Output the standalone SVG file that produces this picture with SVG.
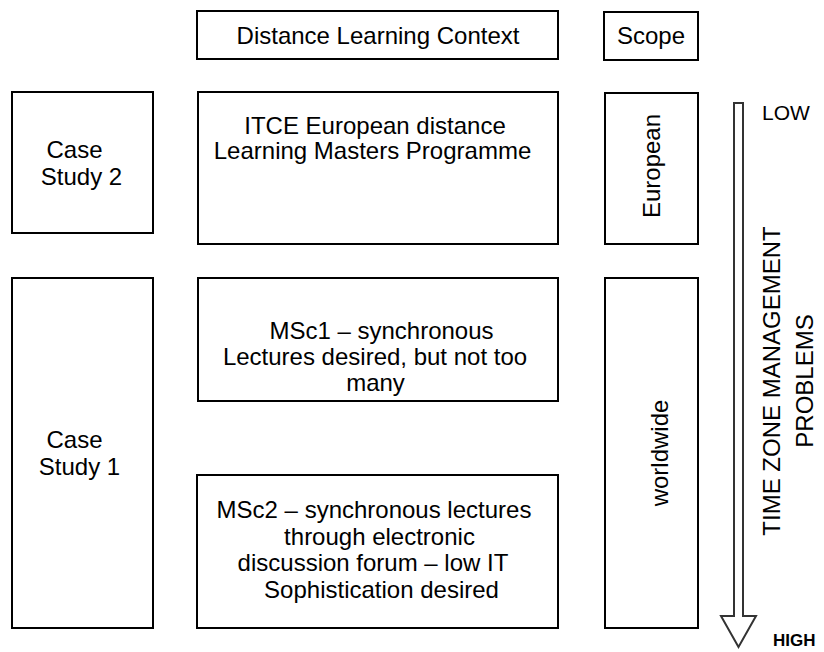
<svg xmlns="http://www.w3.org/2000/svg" width="824" height="652" viewBox="0 0 824 652">
<style>
  .box { fill: #ffffff; stroke: #000000; stroke-width: 2; }
  text { font-family: "Liberation Sans", Arial, sans-serif; font-size: 24px; fill: #000000; text-anchor: middle; }
  .lbl { font-size: 21px; text-anchor: start; }
  .hi { font-size: 17px; font-weight: bold; text-anchor: start; }
  .arrow { fill: #ffffff; stroke: #333333; stroke-width: 2; stroke-linejoin: miter; }
</style>
<rect width="824" height="652" fill="#ffffff"/>

<g id="header-context">
  <rect class="box" x="197" y="11" width="361" height="48"/>
  <text x="378" y="43.5">Distance Learning Context</text>
</g>
<g id="header-scope">
  <rect class="box" x="604" y="12" width="94" height="48"/>
  <text x="651" y="43.5">Scope</text>
</g>

<g id="case-study-2">
  <rect class="box" x="12" y="92" width="141" height="141"/>
  <text x="74.5" y="158">Case</text>
  <text x="81.5" y="185">Study 2</text>
</g>
<g id="case-study-1">
  <rect class="box" x="12" y="278" width="141" height="350"/>
  <text x="74.5" y="448">Case</text>
  <text x="79.5" y="475">Study 1</text>
</g>

<g id="itce">
  <rect class="box" x="198" y="92" width="360" height="152"/>
  <text x="375" y="133.5">ITCE European distance</text>
  <text x="372.5" y="158.5">Learning Masters Programme</text>
</g>
<g id="msc1">
  <rect class="box" x="198" y="278" width="360" height="123"/>
  <text x="381.5" y="338.5">MSc1 – synchronous</text>
  <text x="375" y="365">Lectures desired, but not too</text>
  <text x="375.5" y="390.5">many</text>
</g>
<g id="msc2">
  <rect class="box" x="197" y="475" width="361" height="153"/>
  <text x="374" y="518">MSc2 – synchronous lectures</text>
  <text x="379.5" y="544.5">through electronic</text>
  <text x="373" y="571">discussion forum – low IT</text>
  <text x="381.5" y="597.5">Sophistication desired</text>
</g>

<g id="scope-european">
  <rect class="box" x="605" y="93" width="93" height="151"/>
  <text transform="translate(660,166) rotate(-90)" x="0" y="0">European</text>
</g>
<g id="scope-worldwide">
  <rect class="box" x="605" y="278" width="93" height="350"/>
  <text transform="translate(668,453) rotate(-90)" x="0" y="0">worldwide</text>
</g>

<g id="connectors">
  <polygon class="arrow" points="734,103 743,103 743,616 756,616 738.5,647 721,616 734,616"/>
</g>

<g id="arrow-labels">
  <text class="lbl" x="762" y="120">LOW</text>
  <text class="hi" x="773" y="646">HIGH</text>
  <text transform="translate(780,381) rotate(-90)" x="0" y="0">TIME ZONE MANAGEMENT</text>
  <text transform="translate(813,381) rotate(-90)" x="0" y="0">PROBLEMS</text>
</g>
</svg>
